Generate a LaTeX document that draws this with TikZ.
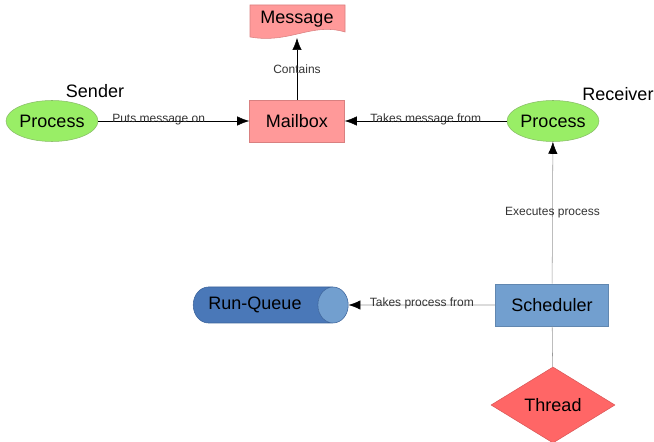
\documentclass[tikz,border=0pt]{standalone}
\usepackage{fontspec}
\setmainfont{Liberation Sans}
\usetikzlibrary{shapes.geometric,arrows.meta}

\definecolor{mailpink}{HTML}{FF9999}
\definecolor{mailedge}{HTML}{D98080}
\definecolor{procgreen}{HTML}{99EE66}
\definecolor{procedge}{HTML}{88BB66}
\definecolor{schedblue}{HTML}{729FCF}
\definecolor{queueblue}{HTML}{4A78B8}
\definecolor{queueedge}{HTML}{3A629A}
\definecolor{threadred}{HTML}{FF6666}
\definecolor{linegray}{HTML}{999999}

\tikzset{
  box/.style={draw=mailedge, fill=mailpink, minimum width=95*0.75pt, minimum height=42*0.75pt, font=\fontsize{13.5}{15}\selectfont},
  proc/.style={ellipse, draw=procedge, fill=procgreen, inner sep=0pt, minimum width=85*0.75pt, minimum height=41*0.75pt, font=\fontsize{13.5}{15}\selectfont},
  role/.style={font=\fontsize{13.5}{15}\selectfont},
  tag/.style={font=\fontsize{9}{10}\selectfont, text=black!80},
  link/.style={-{Latex[length=9pt,width=7pt]}},
  greylink/.style={draw=linegray, -{Latex[length=9pt,width=7pt,color=black]}}
}

\begin{document}
\begin{tikzpicture}[x=0.75pt, y=-0.75pt]
  \useasboundingbox (0,0) rectangle (654,442);

  % message sheet with a wavy lower edge
  \draw[mailedge, fill=mailpink] (250,5) -- (345,5) -- (345,32)
     .. controls (312,22) and (290,44) .. (250,37) -- cycle;
  \node[font=\fontsize{13.5}{15}\selectfont] (message) at (297,19) {Message};
  \coordinate (msgfoot) at (297,38);

  \node[box] (mailbox) at (297,121) {Mailbox};
  \node[proc] (sender) at (52,121) {Process};
  \node[proc] (receiver) at (553,121) {Process};
  \node[role] (sendername) at (95,91) {Sender};
  \node[role] (receivername) at (618,94) {Receiver};

  \node[draw=schedblue!85!black, fill=schedblue, minimum width=113*0.75pt, minimum height=42*0.75pt,
        font=\fontsize{13.5}{15}\selectfont] (scheduler) at (552,305) {Scheduler};
  % run queue lies on its side, end face to the right
  \node[cylinder, shape border rotate=0, aspect=1.9, draw=queueedge, cylinder uses custom fill,
        cylinder body fill=queueblue, cylinder end fill=schedblue, minimum height=155*0.75pt,
        minimum width=36*0.75pt, inner sep=0pt, font=\fontsize{13.5}{15}\selectfont] (runqueue) at (263,305) {\hspace*{-12pt}Run-Queue};
  \node[diamond, draw=threadred!85!black, fill=threadred, inner sep=0pt, minimum width=124*0.75pt,
        minimum height=76*0.75pt, font=\fontsize{13.5}{15}\selectfont] (thread) at (553,405) {Thread};

  % connectors
  \draw[link] (mailbox) -- (msgfoot) node[midway, tag] {Contains};
  \draw[link] (sender) -- (mailbox) node[pos=0.4, tag, anchor=base, yshift=-1pt] {Puts message on};
  \draw[link] (receiver) -- (mailbox) node[pos=0.5, tag, anchor=base, yshift=-1pt] {Takes message from};
  \draw[greylink] (scheduler) -- (runqueue) node[pos=0.5, tag, anchor=base, yshift=-1pt] {Takes process from};
  \draw[greylink] (scheduler) -- (receiver) node[midway, tag] {Executes process};
  \draw[linegray] (thread) -- (scheduler);
\end{tikzpicture}
\end{document}
